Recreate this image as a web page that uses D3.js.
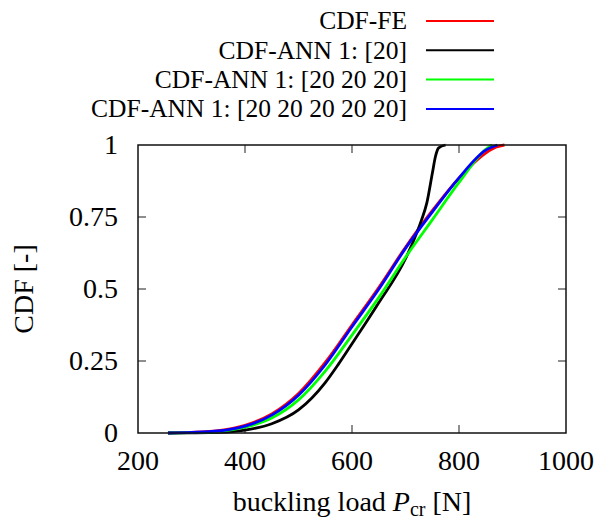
<!DOCTYPE html>
<html>
<head>
<meta charset="utf-8">
<script src="https://cdn.jsdelivr.net/npm/d3@7"></script>
<style>
  body { margin: 0; background: #fff; }
  text { font-family: "Liberation Serif", "Times New Roman", Times, serif; }
</style>
</head>
<body>
<div id="chart"></div>
<script>
// buckling load [N] and CDF values
const feLoad  = [256, 300, 350, 400, 450, 500, 550, 600, 650, 700, 750, 800, 850, 870, 885];
const feCdf   = [0, 0.002, 0.008, 0.027, 0.066, 0.137, 0.245, 0.375, 0.505, 0.645, 0.772, 0.885, 0.972, 0.993, 1.0];

const ann1Load = [256, 300, 350, 400, 450, 500, 550, 575, 600, 625, 650, 700, 720, 730, 740, 750, 756, 762, 775];
const ann1Cdf  = [0, 0.0005, 0.002, 0.01, 0.032, 0.08, 0.175, 0.24, 0.31, 0.38, 0.452, 0.605, 0.69, 0.74, 0.80, 0.90, 0.96, 0.99, 1.0];

const ann3Load = [256, 300, 350, 400, 450, 500, 550, 600, 650, 700, 750, 800, 850, 862];
const ann3Cdf  = [0, 0.001, 0.005, 0.02, 0.052, 0.115, 0.215, 0.34, 0.47, 0.61, 0.74, 0.87, 0.985, 1.0];

const ann5Load = [256, 300, 350, 400, 450, 500, 550, 600, 650, 700, 750, 800, 850, 872];
const ann5Cdf  = [0, 0.002, 0.007, 0.024, 0.062, 0.131, 0.237, 0.369, 0.499, 0.641, 0.767, 0.886, 0.982, 1.0];

const seriesNames  = ["CDF-FE", "CDF-ANN 1: [20]", "CDF-ANN 1: [20 20 20]", "CDF-ANN 1: [20 20 20 20 20]"];
const seriesColors = ["#ff0000", "#000000", "#00ff00", "#0000ff"];
const seriesLoads  = [feLoad, ann1Load, ann3Load, ann5Load];
const seriesCdfs   = [feCdf, ann1Cdf, ann3Cdf, ann5Cdf];

const xTicks = [200, 400, 600, 800, 1000];
const yTicks = [0, 0.25, 0.5, 0.75, 1];

const width = 596;
const height = 521;
const margin = {top: 145, right: 30, bottom: 88, left: 138};

const svg = d3.select("#chart")
  .append("svg")
  .attr("width", width)
  .attr("height", height)
  .style("display", "block");

const x = d3.scaleLinear().domain([200, 1000]).range([margin.left, width - margin.right]);
const y = d3.scaleLinear().domain([0, 1]).range([height - margin.bottom, margin.top]);

const tickLen = 8;
const serif = "'Liberation Serif', 'Times New Roman', Times, serif";

// inward ticks on all four sides
const tickG = svg.append("g").attr("stroke", "#444").attr("stroke-width", 1.2);
xTicks.slice(1, -1).forEach(t => {
  tickG.append("line").attr("x1", x(t)).attr("x2", x(t)).attr("y1", y(0)).attr("y2", y(0) - tickLen);
  tickG.append("line").attr("x1", x(t)).attr("x2", x(t)).attr("y1", y(1)).attr("y2", y(1) + tickLen);
});
yTicks.slice(1, -1).forEach(t => {
  tickG.append("line").attr("x1", x(200)).attr("x2", x(200) + tickLen).attr("y1", y(t)).attr("y2", y(t));
  tickG.append("line").attr("x1", x(1000)).attr("x2", x(1000) - tickLen).attr("y1", y(t)).attr("y2", y(t));
});

// tick labels
svg.append("g").selectAll("text")
  .data(xTicks).enter().append("text")
  .attr("x", d => x(d))
  .attr("y", 470)
  .attr("text-anchor", "middle")
  .attr("font-family", serif)
  .attr("font-size", 28)
  .text(d => d);

svg.append("g").selectAll("text")
  .data(yTicks).enter().append("text")
  .attr("x", 118)
  .attr("y", d => y(d))
  .attr("dy", "0.33em")
  .attr("text-anchor", "end")
  .attr("font-family", serif)
  .attr("font-size", 28)
  .text(d => d);

// curves
const line = d3.line()
  .x(d => x(d[0]))
  .y(d => y(d[1]))
  .curve(d3.curveMonotoneX);

seriesNames.forEach((name, i) => {
  const pts = seriesLoads[i].map((v, j) => [v, seriesCdfs[i][j]]);
  svg.append("path")
    .attr("d", line(pts))
    .attr("fill", "none")
    .attr("stroke", seriesColors[i])
    .attr("stroke-width", 2.8);
});

// plot border
svg.append("rect")
  .attr("x", x(200)).attr("y", y(1))
  .attr("width", x(1000) - x(200)).attr("height", y(0) - y(1))
  .attr("fill", "none")
  .attr("stroke", "#111")
  .attr("stroke-width", 1.5);

// axis titles
svg.append("text")
  .attr("transform", "translate(23," + ((y(0) + y(1)) / 2) + ") rotate(-90)")
  .attr("text-anchor", "middle")
  .attr("dy", "0.35em")
  .attr("font-family", serif)
  .attr("font-size", 28)
  .text("CDF [-]");

const xt = svg.append("text")
  .attr("x", (x(200) + x(1000)) / 2)
  .attr("y", 511)
  .attr("text-anchor", "middle")
  .attr("font-family", serif)
  .attr("font-size", 28);
xt.append("tspan").text("buckling load ");
xt.append("tspan").attr("font-style", "italic").text("P");
xt.append("tspan").attr("font-size", 20).attr("dy", 5).text("cr");
xt.append("tspan").attr("dy", -5).text(" [N]");

// legend
const legend = svg.append("g");
seriesNames.forEach((name, i) => {
  const ly = 21 + i * 29.3;
  legend.append("text")
    .attr("x", 407)
    .attr("y", ly)
    .attr("dy", "0.33em")
    .attr("text-anchor", "end")
    .attr("font-family", serif)
    .attr("font-size", 25.5)
    .text(name);
  legend.append("line")
    .attr("x1", 426).attr("x2", 494)
    .attr("y1", ly).attr("y2", ly)
    .attr("stroke", seriesColors[i])
    .attr("stroke-width", 2);
});
</script>
</body>
</html>
